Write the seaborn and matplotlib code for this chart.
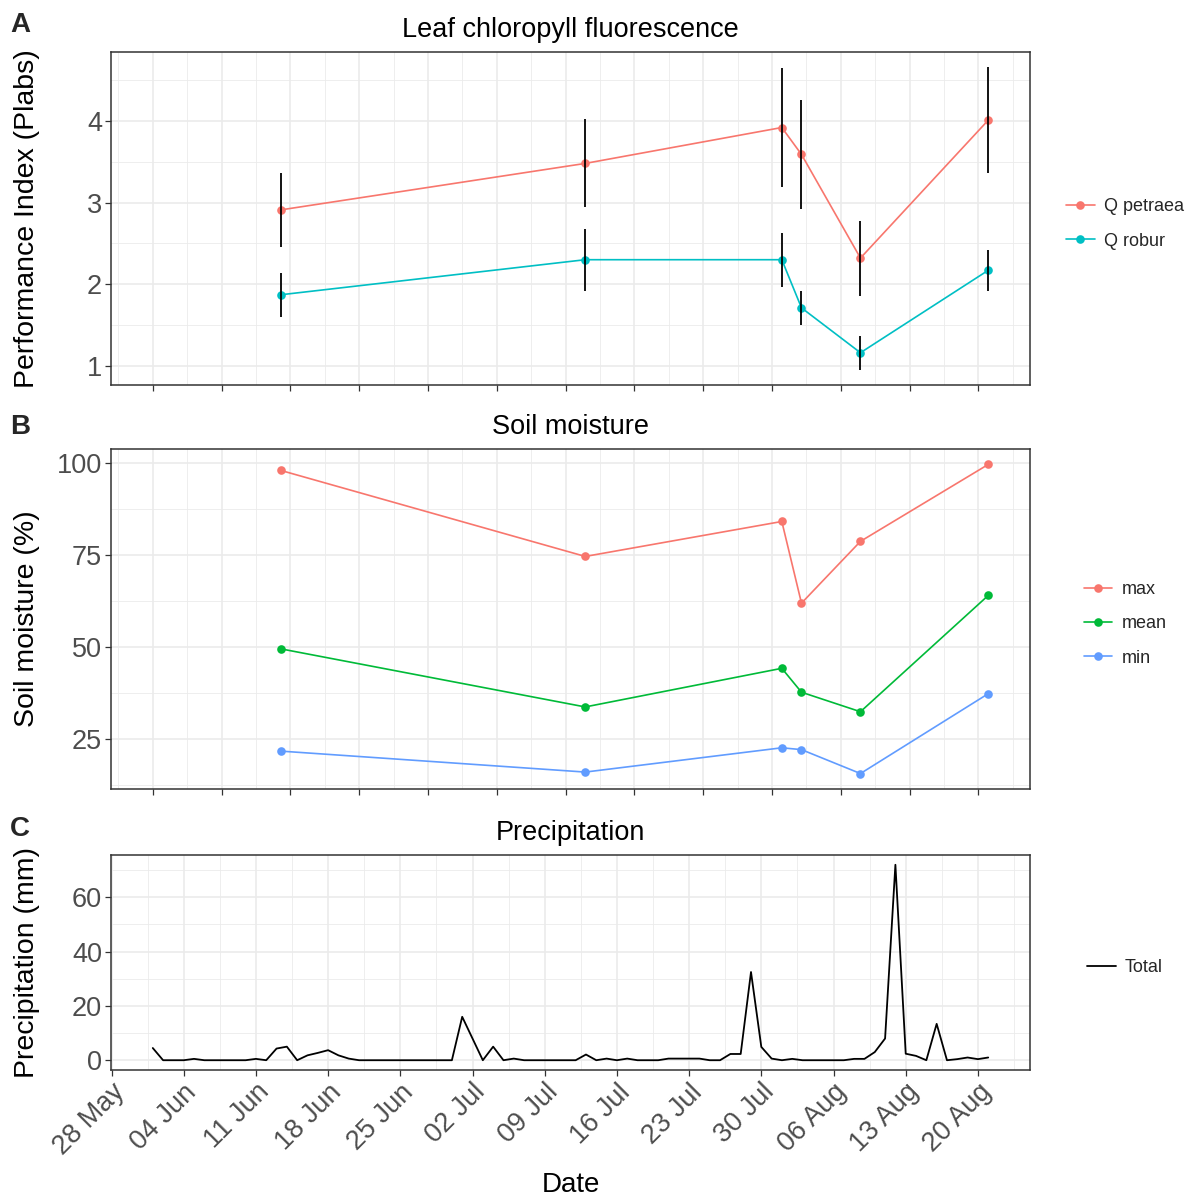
import numpy as np
import pandas as pd
import matplotlib
matplotlib.use("Agg")
import matplotlib.pyplot as plt
import matplotlib.dates as mdates
from matplotlib.ticker import FixedLocator, NullFormatter
from matplotlib.lines import Line2D
import seaborn as sns

# ---------------- data ----------------
# Panel A: leaf chlorophyll fluorescence (Performance Index), mean and error half-width
pi_dates = ["2018-06-10", "2018-07-11", "2018-07-31", "2018-08-02", "2018-08-08", "2018-08-21"]
petraea_mean = [2.91, 3.48, 3.92, 3.59, 2.32, 4.01]
petraea_err = [0.45, 0.54, 0.73, 0.67, 0.46, 0.65]
robur_mean = [1.87, 2.30, 2.30, 1.71, 1.16, 2.17]
robur_err = [0.27, 0.38, 0.33, 0.21, 0.21, 0.25]
species = ["Q petraea", "Q robur"]

# Panel B: soil moisture (%)
sm_dates = pi_dates
sm_max = [98.0, 74.6, 84.1, 61.9, 78.7, 99.6]
sm_mean = [49.5, 33.7, 44.2, 37.7, 32.4, 64.0]
sm_min = [21.7, 16.0, 22.6, 22.1, 15.6, 37.3]
sm_stats = ["max", "mean", "min"]

# Panel C: daily precipitation (mm), from 1 June
precip_start = "2018-06-01"
precip = [4.5, 0, 0, 0, 0.5, 0, 0, 0, 0, 0,
          0.5, 0, 4.3, 5.0, 0, 1.8, 2.7, 3.7, 1.8, 0.6,
          0, 0, 0, 0, 0, 0, 0, 0, 0, 0,
          16, 8, 0, 5, 0, 0.6, 0, 0, 0, 0,
          0, 0, 2.1, 0, 0.6, 0, 0.6, 0, 0, 0,
          0.6, 0.6, 0.6, 0.6, 0, 0, 2.3, 2.3, 32.5, 4.9,
          0.6, 0, 0.5, 0, 0, 0, 0, 0, 0.5, 0.5,
          3, 8, 72, 2.4, 1.6, 0, 13.4, 0, 0.4, 1.0,
          0.4, 1.0]

# date range spanned by panels A/B (start of the measurement campaign)
ab_range_start = "2018-05-28"
week_breaks = pd.date_range("2018-05-28", "2018-08-20", freq="7D")

# ---------------- style ----------------
sns.set_theme(style="white")
plt.rcParams["font.family"] = ["Liberation Sans", "DejaVu Sans"]

pal_sp = {"Q petraea": "#F8766D", "Q robur": "#00BFC4"}
pal_sm = {"max": "#F8766D", "mean": "#00BA38", "min": "#619CFF"}
GRID = "#EBEBEB"
DARK = "#333333"
TICKC = "#4D4D4D"
MS = 6.2
LW = 1.2

W, H = 1189, 1201
fig = plt.figure(figsize=(W / 100, H / 100), dpi=100)
fig.patch.set_facecolor("white")


def rect(l, t, r, b):
    return [l / W, 1 - b / H, (r - l) / W, (b - t) / H]


axA = fig.add_axes(rect(111, 52, 1030, 385))
axB = fig.add_axes(rect(111, 449, 1030, 789))
axC = fig.add_axes(rect(111, 855, 1030, 1070))


def expand(lo, hi, f=0.05):
    r = hi - lo
    return lo - f * r, hi + f * r


# ---------------- Panel A ----------------
dfA = pd.DataFrame({
    "Date": pd.to_datetime(pi_dates * 2),
    "PI": petraea_mean + robur_mean,
    "err": petraea_err + robur_err,
    "Species": [species[0]] * len(pi_dates) + [species[1]] * len(pi_dates),
})
sns.lineplot(data=dfA, x="Date", y="PI", hue="Species", palette=pal_sp,
             marker="o", markersize=MS, markeredgewidth=0, linewidth=LW,
             ax=axA, legend=False, zorder=2)
axA.vlines(dfA["Date"], dfA["PI"] - dfA["err"], dfA["PI"] + dfA["err"],
           color="black", lw=1.3, zorder=3)
axA.set_ylim(*expand((dfA["PI"] - dfA["err"]).min(), (dfA["PI"] + dfA["err"]).max()))
axA.set_yticks([1, 2, 3, 4])
axA.yaxis.set_minor_locator(FixedLocator([0.5, 1.5, 2.5, 3.5, 4.5]))

# ---------------- Panel B ----------------
dfB = pd.DataFrame({
    "Date": pd.to_datetime(sm_dates * 3),
    "SM": sm_max + sm_mean + sm_min,
    "stat": [s for s in sm_stats for _ in sm_dates],
})
sns.lineplot(data=dfB, x="Date", y="SM", hue="stat", palette=pal_sm,
             marker="o", markersize=MS, markeredgewidth=0, linewidth=LW,
             ax=axB, legend=False)
axB.set_ylim(*expand(dfB["SM"].min(), dfB["SM"].max()))
axB.set_yticks([25, 50, 75, 100])
axB.yaxis.set_minor_locator(FixedLocator([12.5, 37.5, 62.5, 87.5]))

# ---------------- Panel C ----------------
dfC = pd.DataFrame({
    "Date": pd.date_range(precip_start, periods=len(precip), freq="D"),
    "P": precip,
    "var": "Total",
})
sns.lineplot(data=dfC, x="Date", y="P", color="black", linewidth=1.3, ax=axC, legend=False)
axC.set_ylim(*expand(min(precip), max(precip)))
axC.set_yticks([0, 20, 40, 60])
axC.yaxis.set_minor_locator(FixedLocator([10, 30, 50, 70]))

# ---------------- x axes ----------------
ab_lo, ab_hi = expand(pd.Timestamp(ab_range_start), pd.Timestamp(pi_dates[-1]))
c_lo, c_hi = expand(dfC["Date"].min(), dfC["Date"].max())
minor_dates = list(week_breaks - pd.Timedelta(days=3.5)) + [week_breaks[-1] + pd.Timedelta(days=3.5)]

for ax, (lo, hi) in zip([axA, axB, axC], [(ab_lo, ab_hi), (ab_lo, ab_hi), (c_lo, c_hi)]):
    ax.set_xlim(lo, hi)
    ax.xaxis.set_major_locator(FixedLocator(mdates.date2num(week_breaks)))
    ax.xaxis.set_minor_locator(FixedLocator(mdates.date2num(minor_dates)))
    ax.set_facecolor("white")
    ax.grid(which="major", color=GRID, lw=1.2, zorder=0)
    ax.grid(which="minor", color=GRID, lw=0.6, zorder=0)
    ax.set_axisbelow(True)
    for sp in ax.spines.values():
        sp.set_visible(True)
        sp.set_color(DARK)
        sp.set_linewidth(1.1)
    ax.tick_params(which="major", length=4.5, width=0.9, color=DARK,
                   labelsize=19.5, labelcolor=TICKC, left=True, bottom=True, pad=2)
    ax.tick_params(which="minor", length=0)
    ax.set_xlabel("")

for ax in (axA, axB):
    ax.xaxis.set_major_formatter(NullFormatter())

axC.set_xticklabels([d.strftime("%d %b") for d in week_breaks], rotation=45,
                    ha="right", va="top", rotation_mode="anchor")
axC.set_xlabel("Date", fontsize=20, color="black")
axC.xaxis.set_label_coords(0.5, (1070 - 1185) / 215)
axC.xaxis.label.set_va("center")

# y labels
for ax, lab in zip([axA, axB, axC], ["Performance Index (Plabs)", "Soil moisture (%)", "Precipitation (mm)"]):
    ax.set_ylabel(lab, fontsize=20.5, color="black")
    ax.yaxis.set_label_coords((27 - 111) / 919, 0.5)
    ax.yaxis.label.set_va("center")

# titles
for ax, t in zip([axA, axB, axC], ["Leaf chloropyll fluorescence", "Soil moisture", "Precipitation"]):
    ax.set_title(t, fontsize=19.5, color="black", pad=11)

# panel letters
for letter, ypx in zip(["A", "B", "C"], [25, 427, 829]):
    fig.text(10 / W, 1 - ypx / H, letter, fontsize=20, fontweight="bold", ha="left", va="center")

# legends
hA = [Line2D([0], [0], color=pal_sp[s], marker="o", markersize=MS, markeredgewidth=0, lw=LW, label=s) for s in species]
hB = [Line2D([0], [0], color=pal_sm[s], marker="o", markersize=MS, markeredgewidth=0, lw=LW, label=s) for s in sm_stats]
hC = [Line2D([0], [0], color="black", lw=1.3, label="Total")]
for handles, ypx in zip([hA, hB, hC], [224, 624, 968]):
    fig.legend(handles=handles, loc="center", bbox_to_anchor=(1125 / W, 1 - ypx / H),
               frameon=False, fontsize=13, handlelength=1.6, handletextpad=0.5,
               labelspacing=0.95, borderpad=0)

fig.savefig("out.png", dpi=100, facecolor="white")
